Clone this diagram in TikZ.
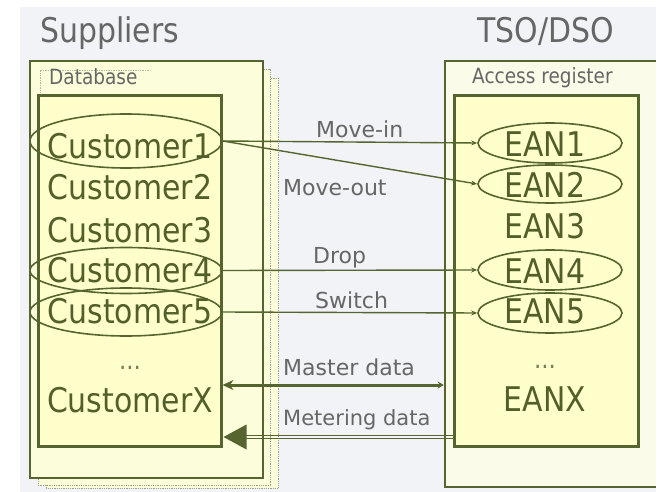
\documentclass[tikz,border=0pt]{standalone}
\usepackage{fontspec}
\setmainfont{DejaVu Sans}[FakeStretch=0.88]
\newfontfamily\lblfont{DejaVu Sans}
\usetikzlibrary{shapes.geometric,arrows.meta,calc}
\definecolor{ln}{HTML}{566530}
\definecolor{txo}{HTML}{535F2A}
\definecolor{txg}{HTML}{666666}
\definecolor{bgc}{HTML}{F2F3F7}
\definecolor{yin}{HTML}{FFFFCC}
\definecolor{yout}{HTML}{FCFDDA}
\definecolor{ytso}{HTML}{FAFBE8}
\begin{document}
\begin{tikzpicture}[x=1pt,y=-1pt,
  box/.style={draw=ln, rectangle, inner sep=0pt},
  big/.style={font=\fontsize{34}{40}\selectfont, text=txo, inner sep=0pt, anchor=base},
  ttl/.style={font=\fontsize{34}{40}\selectfont, text=txg, inner sep=0pt, anchor=base west},
  sub/.style={font=\fontsize{21}{24}\selectfont, text=txg, inner sep=0pt, anchor=base west},
  dotsn/.style={font=\fontsize{26}{30}\selectfont, text=txo!80, inner sep=0pt, anchor=base},
  oval/.style={draw=ln, ellipse, line width=1.6pt, inner sep=0pt},
  lbl/.style={font=\lblfont\fontsize{22}{26}\selectfont, text=txg, inner sep=0pt, anchor=base west},
  conn/.style={draw=ln, line width=1.4pt, -{Stealth[length=6pt,width=5pt]}},
]
\useasboundingbox (0,0) rectangle (656,492);
\clip (0,0) rectangle (656,492);
\fill[white] (0,0) rectangle (656,492);
\fill[bgc] (20,7) rectangle (656,492);

% titles
\node[ttl] (tsup) at (40,43) {Suppliers};
\node[ttl] (ttso) at (477,43) {TSO/DSO};

% supplier stacked boxes
\draw[ln!60, densely dotted, line width=0.8pt, fill=yout] (46,78) rectangle (278,488);
\draw[ln!60, densely dotted, line width=0.8pt, fill=yout] (38,69) rectangle (270,485);
\node[box, fill=yout, line width=2.5pt, minimum width=233pt, minimum height=417pt] (sup) at (146.5,269.5) {};
\draw[ln!45, densely dotted, line width=0.7pt] (40,96) -- (40,70) -- (150,70);
\node[sub] (db) at (49,85) {Database};
\node[box, fill=yin, line width=3pt, minimum width=183pt, minimum height=350pt] (supin) at (129.5,271) {};

% TSO boxes
\node[box, fill=ytso, line width=2.5pt, minimum width=219pt, minimum height=426pt] (tso) at (554.5,274) {};
\node[sub] (ar) at (472,84) {Access register};
\node[box, fill=yin, line width=3pt, minimum width=184pt, minimum height=350pt] (tsoin) at (546,271) {};

% customer ellipses
\node[oval, minimum width=192pt, minimum height=54pt] (c1e) at (126,141) {};
\node[oval, minimum width=192pt, minimum height=46pt] (c4e) at (126,270.5) {};
\node[oval, minimum width=192pt, minimum height=48pt] (c5e) at (126,312) {};

% customers
\node[big] (c1) at (130,158) {Customer1};
\node[big] (c2) at (130,200) {Customer2};
\node[big] (c3) at (130,242) {Customer3};
\node[big] (c4) at (130,282) {Customer4};
\node[big] (c5) at (130,323) {Customer5};
\node[dotsn] (cd) at (130,369) {...};
\node[big] (cx) at (130,412) {CustomerX};

% EAN ellipses
\node[oval, minimum width=144pt, minimum height=40pt] (e1e) at (550,143) {};
\node[oval, minimum width=144pt, minimum height=38pt] (e2e) at (550,184) {};
\node[oval, minimum width=144pt, minimum height=40pt] (e4e) at (550,270) {};
\node[oval, minimum width=144pt, minimum height=40pt] (e5e) at (550,313) {};

% EANs
\node[big] (e1) at (545,157) {EAN1};
\node[big] (e2) at (545,197) {EAN2};
\node[big] (e3) at (545,238) {EAN3};
\node[big] (e4) at (545,283) {EAN4};
\node[big] (e5) at (545,323) {EAN5};
\node[dotsn] (ed) at (545,368) {...};
\node[big] (ex) at (545,411) {EANX};

% connectors
\draw[conn] (c1e.east) -- (e1e.west);
\draw[conn] (c1e.east) -- (e2e.west);
\draw[conn] (c4e.east) -- (e4e.west);
\draw[conn] (c5e.east) -- (e5e.west);

\coordinate (mdy) at (0,385);
\coordinate (mty) at (0,437);
\draw[ln, line width=3pt, {Stealth[length=11pt,width=10pt]}-{Stealth[length=6pt,width=7pt]}] (supin.east |- mdy) -- (tso.west |- mdy);
\draw[ln, line width=1.3pt] ($(tsoin.west |- mty)+(0,-1.8)$) -- ($(supin.east |- mty)+(20,-1.8)$);
\draw[ln, line width=1.3pt] ($(tsoin.west |- mty)+(0,1.8)$) -- ($(supin.east |- mty)+(20,1.8)$);
\fill[ln] ($(supin.east |- mty)+(1,0)$) -- ++(23,-12.5) -- ++(0,25) -- cycle;

% labels
\node[lbl] (lmi) at (316,138) {Move-in};
\node[lbl] (lmo) at (283,195) {Move-out};
\node[lbl] (ldr) at (313,263) {Drop};
\node[lbl] (lsw) at (315,308) {Switch};
\node[lbl] (lma) at (283,375) {Master data};
\node[lbl, font=\lblfont\fontsize{21}{26}\selectfont] (lme) at (283,425) {Metering data};
\end{tikzpicture}
\end{document}
